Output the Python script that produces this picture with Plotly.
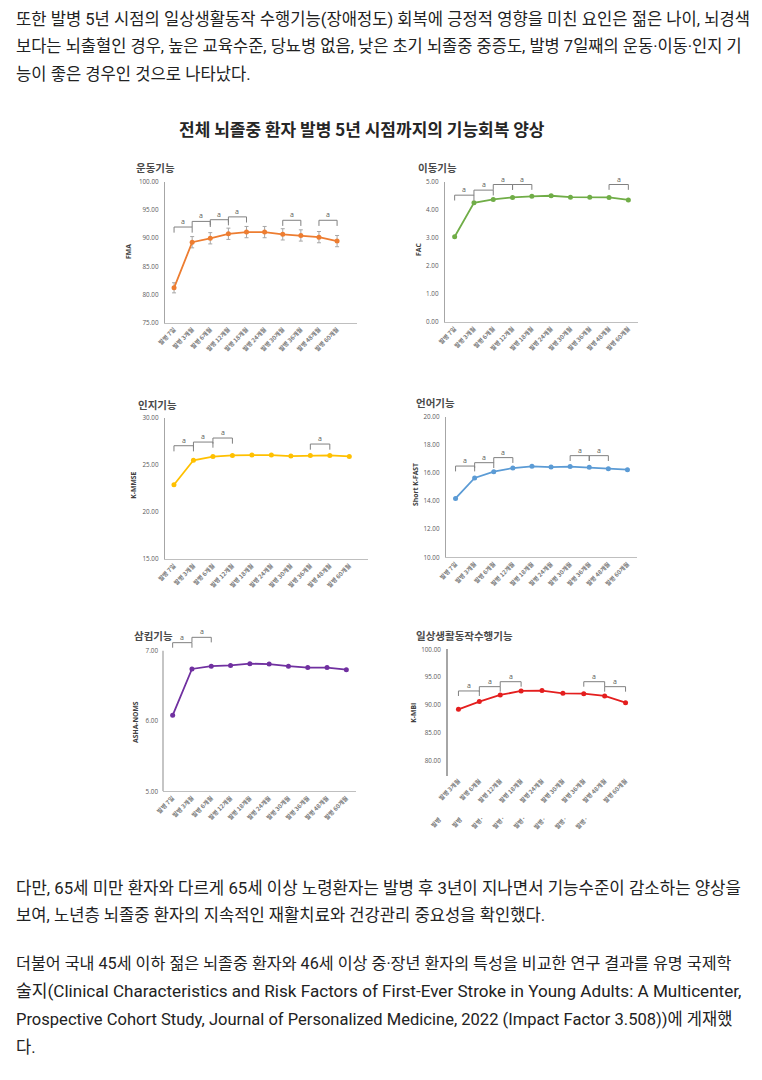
import plotly.graph_objects as go

W, H = 762, 1080
OFF = 8  # page body margin of the viewer

# ---------------- data ----------------
CATS10 = ["발병 7일", "발병 3개월", "발병 6개월", "발병 12개월", "발병 18개월",
          "발병 24개월", "발병 30개월", "발병 36개월", "발병 48개월", "발병 60개월"]
CATS9 = ["발병 3개월", "발병 6개월", "발병 12개월", "발병 18개월",
         "발병 24개월", "발병 30개월", "발병 36개월", "발병 48개월", "발병 60개월"]
CATS9_ROW2 = ["발병", "발병", "발병·", "발병·", "발병·", "발병·", "발병·", "발병·"]

FMA = [81.2, 89.3, 90.0, 90.8, 91.1, 91.1, 90.7, 90.5, 90.2, 89.5]
FMA_ERR = [0.9, 1.0, 1.0, 1.0, 1.0, 1.0, 1.0, 1.0, 1.0, 1.0]
FAC = [3.04, 4.25, 4.37, 4.44, 4.48, 4.50, 4.45, 4.45, 4.44, 4.35]
KMMSE = [22.9, 25.5, 25.9, 26.02, 26.06, 26.06, 25.95, 26.02, 26.02, 25.91]
KFAST = [14.19, 15.64, 16.09, 16.35, 16.47, 16.42, 16.45, 16.40, 16.30, 16.23]
ASHA = [6.08, 6.74, 6.78, 6.79, 6.815, 6.81, 6.78, 6.76, 6.76, 6.73]
KMBI = [89.25, 90.63, 91.82, 92.54, 92.6, 92.12, 92.06, 91.64, 90.45]

# significance brackets: (from index, to index)
SIG_FMA = [(0, 1), (1, 2), (2, 3), (3, 4), (6, 7), (8, 9)]
SIG_FAC = [(0, 1), (1, 2), (2, 3), (3, 4), (8, 9)]
SIG_KMMSE = [(0, 1), (1, 2), (2, 3), (7, 8)]
SIG_KFAST = [(0, 1), (1, 2), (2, 3), (6, 7), (7, 8)]
SIG_ASHA = [(0, 1), (1, 2)]
SIG_KMBI = [(0, 1), (1, 2), (2, 3), (6, 7), (7, 8)]

TEXT_TOP = [
    "또한 발병 5년 시점의 일상생활동작 수행기능(장애정도) 회복에 긍정적 영향을 미친 요인은 젊은 나이, 뇌경색",
    "보다는 뇌출혈인 경우, 높은 교육수준, 당뇨병 없음, 낮은 초기 뇌졸중 중증도, 발병 7일째의 운동·이동·인지 기",
    "능이 좋은 경우인 것으로 나타났다.",
]
TEXT_BOTTOM = [
    "다만, 65세 미만 환자와 다르게 65세 이상 노령환자는 발병 후 3년이 지나면서 기능수준이 감소하는 양상을",
    "보여, 노년층 뇌졸중 환자의 지속적인 재활치료와 건강관리 중요성을 확인했다.",
    "더불어 국내 45세 이하 젊은 뇌졸중 환자와 46세 이상 중·장년 환자의 특성을 비교한 연구 결과를 유명 국제학",
    "술지(Clinical Characteristics and Risk Factors of First-Ever Stroke in Young Adults: A Multicenter,",
    "Prospective Cohort Study, Journal of Personalized Medicine, 2022 (Impact Factor 3.508))에 게재했",
    "다.",
]
CHART_TITLE = "전체 뇌졸중 환자 발병 5년 시점까지의 기능회복 양상"

# ---------------- layout config ----------------
TXT_FONT = "Roboto, Noto Sans CJK KR, sans-serif"
KR_FONT = "Noto Sans CJK KR, sans-serif"
TICK_FONT = dict(family="Open Sans, Noto Sans CJK KR", size=6.3, color="#595959")
XTICK_FONT = dict(family="Noto Sans CJK KR", size=6, color="#7a7a7a", weight="bold")

PANELS = [
    dict(title="운동기능", ytitle="FMA", color="#ED7D31", cats=CATS10, y=FMA, err=FMA_ERR,
         yr=(75, 100), yticks=[75, 80, 85, 90, 95, 100], ypx=(182, 322.7), xpx=(165, 357),
         xr=(-0.5, 10.1), sig=SIG_FMA, tops=[92.0, 93.0, 93.3, 93.8, 93.2, 93.2], drop=1.0,
         tpos=(134, 167), ytpos=(129, 252), xline=True),
    dict(title="이동기능", ytitle="FAC", color="#70AD47", cats=CATS10, y=FAC, err=None,
         yr=(0, 5), yticks=[0, 1, 2, 3, 4, 5], ypx=(181.7, 322), xpx=(445, 638),
         xr=(-0.5, 9.5), sig=SIG_FAC, tops=[4.52, 4.70, 4.90, 4.90, 4.90], drop=0.19,
         tpos=(416, 167), ytpos=(418, 250), xline=True),
    dict(title="인지기능", ytitle="K-MMSE", color="#FFC000", cats=CATS10, y=KMMSE, err=None,
         yr=(15, 30), yticks=[15, 20, 25, 30], ypx=(418, 559), xpx=(165, 368),
         xr=(-0.46, 9.96), sig=SIG_KMMSE, tops=[27.05, 27.44, 27.87, 27.23], drop=0.6,
         tpos=(136, 404), ytpos=(132.7, 485), xline=True),
    dict(title="언어기능", ytitle="Short K-FAST", color="#5B9BD5", cats=CATS10, y=KFAST, err=None,
         yr=(10, 20), yticks=[10, 12, 14, 16, 18, 20], ypx=(416.7, 557.3), xpx=(446, 637),
         xr=(-0.5, 9.5), sig=SIG_KFAST, tops=[16.49, 16.73, 17.09, 17.23, 17.23], drop=0.38,
         tpos=(414, 402), ytpos=(415, 485), xline=True),
    dict(title="삼킴기능", ytitle="ASHA-NOMS", color="#7030A0", cats=CATS10, y=ASHA, err=None,
         yr=(5, 7.25), yticks=[5, 6, 7], ypx=(633.1, 791.3), xpx=(163, 356),
         xr=(-0.5, 9.5), sig=SIG_ASHA, tops=[7.114, 7.19], drop=0.072,
         tpos=(132, 635), ytpos=(135, 722), xline=True, yline_top=7),
    dict(title="일상생활동작수행기능", ytitle="K-MBI", color="#E41E1E", cats=CATS9, y=KMBI, err=None,
         yr=(77.4, 100), yticks=[80, 85, 90, 95, 100], ypx=(649.3, 775.5), xpx=(448, 636),
         xr=(-0.5, 8.5), sig=SIG_KMBI, tops=[92.54, 93.31, 94.2, 94.2, 93.31], drop=0.9,
         tpos=(414, 635), ytpos=(412.7, 713), xline=False),
]

fig = go.Figure()
annotations = []
shapes = []
layout = {}


def px_x(p):
    return (p - OFF) / W


def px_y(p):
    return 1 - (p - OFF) / H


for k, p in enumerate(PANELS, start=1):
    sfx = "" if k == 1 else str(k)
    xa, ya = "x" + sfx, "y" + sfx
    n = len(p["cats"])
    idx = list(range(n))
    c = p["color"]
    err = dict(type="data", array=p["err"], color="#A6A6A6", thickness=1, width=2) if p["err"] else None
    fig.add_trace(go.Scatter(
        x=idx, y=p["y"], mode="lines+markers", xaxis=xa, yaxis=ya,
        line=dict(color=c, width=1.8), marker=dict(color=c, size=5),
        error_y=err, showlegend=False, hoverinfo="skip"))

    # significance brackets
    for (i, j), top in zip(p["sig"], p["tops"]):
        fig.add_trace(go.Scatter(
            x=[i, i, j, j], y=[top - p["drop"], top, top, top - p["drop"]],
            mode="lines", xaxis=xa, yaxis=ya, line=dict(color="#808080", width=1),
            showlegend=False, hoverinfo="skip"))
        annotations.append(dict(x=(i + j) / 2, y=top, xref=xa, yref=ya, text="a",
                                showarrow=False, yanchor="bottom", yshift=-1,
                                font=dict(family="Open Sans", size=7, color="#595959")))

    yline = "yline_top" not in p
    layout["xaxis" + sfx] = dict(
        domain=[px_x(p["xpx"][0]), px_x(p["xpx"][1])], range=list(p["xr"]),
        anchor=ya, tickvals=idx, ticktext=p["cats"], tickangle=-45, tickfont=XTICK_FONT,
        showline=p["xline"], linecolor="#BFBFBF", linewidth=1.2, showgrid=False,
        zeroline=False, ticks="", fixedrange=True, automargin=False)
    layout["yaxis" + sfx] = dict(
        domain=[px_y(p["ypx"][1]), px_y(p["ypx"][0])], range=list(p["yr"]),
        anchor=xa, tickvals=p["yticks"], tickformat=".2f", tickfont=TICK_FONT,
        showline=yline, linecolor="#A6A6A6", linewidth=1.3 if k != 6 else 1.8,
        showgrid=False, zeroline=False, ticks="", ticklabelstandoff=4, fixedrange=True,
        automargin=False)
    if not yline:
        shapes.append(dict(type="line", xref=xa + " domain", yref=ya, x0=0, x1=0,
                           y0=p["yr"][0], y1=p["yline_top"],
                           line=dict(color="#A6A6A6", width=1.3)))

    # panel title
    annotations.append(dict(x=px_x(p["tpos"][0]), y=px_y(p["tpos"][1]), xref="paper", yref="paper",
                            text="<b>" + p["title"] + "</b>", showarrow=False,
                            xanchor="left", yanchor="middle",
                            font=dict(family=KR_FONT, size=10.5, color="#4a4a4a")))
    # y-axis title
    annotations.append(dict(x=px_x(p["ytpos"][0]), y=px_y(p["ytpos"][1]), xref="paper", yref="paper",
                            text="<b>" + p["ytitle"] + "</b>", showarrow=False, textangle=-90,
                            xanchor="center", yanchor="middle",
                            font=dict(family="Open Sans", size=6.8, color="#404040")))

# garbled second row of tick labels in the last panel
for i, t in enumerate(CATS9_ROW2):
    annotations.append(dict(x=i, y=px_y(822), xref="x6", yref="paper", xshift=-23,
                            text=t, showarrow=False, textangle=-45,
                            xanchor="center", yanchor="middle", font=XTICK_FONT))

# chart title
annotations.append(dict(x=px_x(362), y=px_y(128), xref="paper", yref="paper",
                        text="<b>" + CHART_TITLE + "</b>", showarrow=False,
                        xanchor="center", yanchor="middle",
                        font=dict(family=KR_FONT, size=17, color="#262626")))

# body text
TOP_Y = [19, 46.5, 74]
TOP_SIZE = [16.6, 16.5, 16.6]
BOT_Y = [888, 915.5, 963, 991, 1019.5, 1047.5]
BOT_SIZE = [16.75, 16.6, 16.2, 17.1, 16.55, 16.6]
for line, yp, fs in zip(TEXT_TOP + TEXT_BOTTOM, TOP_Y + BOT_Y, TOP_SIZE + BOT_SIZE):
    annotations.append(dict(x=px_x(14), y=px_y(yp), xref="paper", yref="paper", text=line,
                            showarrow=False, xanchor="left", yanchor="middle",
                            font=dict(family=TXT_FONT, size=fs, color="#222222")))

layout.update(dict(
    width=W, height=H, margin=dict(l=0, r=0, t=0, b=0, autoexpand=False),
    paper_bgcolor="white", plot_bgcolor="white",
    annotations=annotations, shapes=shapes, showlegend=False,
))
fig.update_layout(layout)
fig.write_html("out.html", config={"displayModeBar": False})
